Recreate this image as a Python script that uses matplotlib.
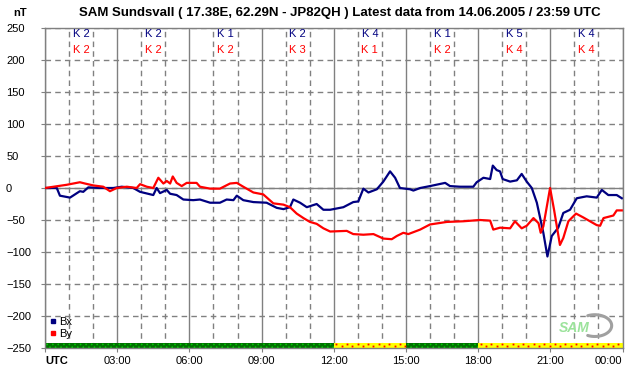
import matplotlib
matplotlib.use("Agg")
import matplotlib.pyplot as plt
import numpy as np
from matplotlib.lines import Line2D
from matplotlib.ticker import MultipleLocator

plt.rcParams["font.family"] = ["Liberation Sans", "DejaVu Sans"]
plt.rcParams["hatch.linewidth"] = 1.6

TITLE = "SAM Sundsvall ( 17.38E, 62.29N - JP82QH ) Latest data from 14.06.2005 / 23:59 UTC"

# hours since 00:00 UTC, nT
bx_t = [0, 0.49, 0.62, 1.04, 1.45, 1.59, 1.80, 2.29, 2.84, 3.19, 3.67, 3.95, 4.50, 4.64,
        4.78, 5.06, 5.20, 5.47, 5.75, 6.16, 6.44, 6.86, 7.27, 7.55, 7.83, 7.97, 8.24,
        8.66, 9.21, 9.63, 9.91, 10.18, 10.32, 10.60, 10.88, 11.29, 11.57, 11.85,
        12.40, 12.81, 13.02, 13.23, 13.44, 13.79, 14.06, 14.34, 14.55, 14.75, 15.17,
        15.31, 15.59, 16.00, 16.63, 16.83, 17.25, 17.80, 17.94, 18.22, 18.50, 18.61,
        18.77, 18.91, 19.02, 19.33, 19.61, 19.81, 20.02, 20.23, 20.44, 20.71, 20.88,
        21.06, 21.33, 21.54, 21.82, 22.10, 22.51, 22.93, 23.14, 23.41, 23.76, 23.97]
bx_v = [0, 0, -12, -15, -5, -6, 1, 0, 0, 2, 0, -6, -11, 0,
        -8, -3, -9, -11, -18, -19, -18, -23, -23, -18, -19, -12, -19,
        -22, -23, -31, -33, -30, -18, -23, -30, -25, -34, -34,
        -30, -22, -21, -1, -7, -2, 10, 26, 16, 0, -2,
        -4, 0, 3, 8, 3, 2, 2, 9, 16, 14, 35,
        28, 26, 14, 10, 12, 22, 10, 0, -23, -70, -107,
        -75, -62, -39, -34, -16, -13, -15, -3, -11, -11, -16]

by_t = [0, 0.90, 1.45, 1.66, 2.01, 2.42, 2.70, 2.98, 3.40, 3.81, 3.95, 4.23, 4.50, 4.71,
        4.92, 5.06, 5.20, 5.31, 5.47, 5.68, 5.89, 6.30, 6.44, 6.86, 7.27, 7.69, 7.97,
        8.24, 8.66, 9.07, 9.49, 9.91, 10.18, 10.46, 10.74, 11.01, 11.29, 11.57, 11.85,
        12.54, 12.81, 13.23, 13.65, 14.06, 14.41, 14.62, 14.89, 15.10, 15.59, 16.00,
        16.70, 17.38, 18.08, 18.50, 18.63, 18.91, 19.33, 19.53, 19.81, 20.02, 20.30,
        20.51, 20.60, 20.71, 20.99, 21.16, 21.40, 21.54, 21.75, 22.07, 22.37, 22.93,
        23.07, 23.21, 23.62, 23.76, 23.97]
by_v = [0, 5, 9, 7, 4, 2, -5, 0, 2, 0, 6, 2, 0, 16,
        7, 11, 7, 18, 8, 3, 8, 8, 2, -1, -1, 7, 8,
        2, -7, -10, -24, -26, -30, -40, -47, -53, -56, -63, -68,
        -67, -72, -73, -72, -79, -80, -75, -70, -72, -65, -57,
        -53, -52, -50, -51, -65, -62, -63, -52, -63, -59, -47,
        -55, -70, -60, 0, -35, -89, -78, -52, -40, -46, -58,
        -59, -47, -43, -35, -35]

# K indices per 3h block
k_bx = [2, 2, 1, 2, 4, 1, 5, 4]
k_by = [2, 2, 2, 3, 1, 2, 4, 4]

# bottom status bar: (start, end, colour)
bar_spans = [(0, 12, "green"), (12, 15, "yellow"), (15, 18, "green"), (18, 24, "yellow")]

x_labels = ["UTC", "03:00", "06:00", "09:00", "12:00", "15:00", "18:00", "21:00", "00:00"]

GRID = "#808080"
BLUE = "#000080"
RED = "#ff0000"

fig = plt.figure(figsize=(6.42, 3.76), dpi=100)
ax = fig.add_axes([45 / 642, 1 - 348 / 376, 577.5 / 642, 320 / 376])

ax.set_xlim(0, 24)
ax.set_ylim(-250, 250)

ax.xaxis.set_major_locator(MultipleLocator(3))
ax.xaxis.set_minor_locator(MultipleLocator(1))
ax.yaxis.set_major_locator(MultipleLocator(50))

ax.grid(which="major", axis="x", color=GRID, lw=1.0, ls="-")
ax.grid(which="minor", axis="x", color=GRID, lw=1.0, ls=(0, (4, 3)))
ax.grid(which="major", axis="y", color=GRID, lw=1.0, ls=(0, (4, 3)))
ax.axhline(0, color=GRID, lw=1.0, zorder=1)
ax.set_axisbelow(True)

for s in ax.spines.values():
    s.set_color(GRID)
    s.set_linewidth(1.0)

ax.tick_params(axis="both", which="major", length=3, color=GRID, labelsize=8)
ax.tick_params(axis="x", which="minor", length=0)
ax.tick_params(axis="y", pad=25)
ax.tick_params(axis="x", pad=3)
for lab in ax.get_yticklabels():
    lab.set_horizontalalignment("left")

ax.set_xticks(range(0, 25, 3))
ax.set_xticklabels(x_labels)
xt = ax.get_xticklabels()
xt[0].set_horizontalalignment("left")
xt[0].set_fontweight("bold")
xt[-1].set_horizontalalignment("right")

# status bar: green = quiet, yellow with red dots = disturbed
for a, b, c in bar_spans:
    if c == "green":
        ax.fill_between([a, b], -250, -242, facecolor="#00c800", edgecolor="#007000",
                        hatch="xxxxxx", lw=0, zorder=2)
    else:
        ax.fill_between([a, b], -250, -242, facecolor="#ffff00", lw=0, zorder=2)
        dots = np.arange(a + 0.11, b, 0.22)
        ax.plot(dots[::2], np.full(len(dots[::2]), -244.5), ls="", marker="s",
                ms=1.3, mew=0, color=RED, zorder=3)
        ax.plot(dots[1::2], np.full(len(dots[1::2]), -247.5), ls="", marker="s",
                ms=1.3, mew=0, color=RED, zorder=3)

ax.plot(bx_t, bx_v, color=BLUE, lw=1.6, zorder=4)
ax.plot(by_t, by_v, color=RED, lw=1.6, zorder=4)

# K index labels
for i, (kb, kr) in enumerate(zip(k_bx, k_by)):
    xc = i * 3 + 1.5
    ax.text(xc, 240, f"K {kb}", color=BLUE, fontsize=8, ha="center", va="center", zorder=5)
    ax.text(xc, 215, f"K {kr}", color=RED, fontsize=8, ha="center", va="center", zorder=5)

handles = [Line2D([], [], color=BLUE, marker="s", ls="", markersize=2.5),
           Line2D([], [], color=RED, marker="s", ls="", markersize=2.5)]
ax.legend(handles, ["Bx", "By"], loc="lower left", bbox_to_anchor=(-0.005, 0.005),
          frameon=False, fontsize=8, handlelength=0.6, handletextpad=0.2,
          labelspacing=0.15, borderaxespad=0.3)

# SAM logo: green lettering with a grey swoosh
ax.text(22.0, -219, "SAM", color="#9be39b", fontsize=10, style="italic", fontweight="bold",
        ha="center", va="center", zorder=3)
th = np.radians(np.linspace(115, -115, 60))
ax.plot(22.85 + 0.7 * np.cos(th), -215 + 17 * np.sin(th), color="#a0a0a0", lw=2.2,
        solid_capstyle="round", zorder=3)

fig.text(27 / 642, 1 - 13 / 376, "nT", fontsize=8, fontweight="bold", ha="right", va="center")
fig.text(340 / 642, 1 - 13 / 376, TITLE, fontsize=9.5, fontweight="bold",
         ha="center", va="center")

fig.savefig("out.png", dpi=100)
